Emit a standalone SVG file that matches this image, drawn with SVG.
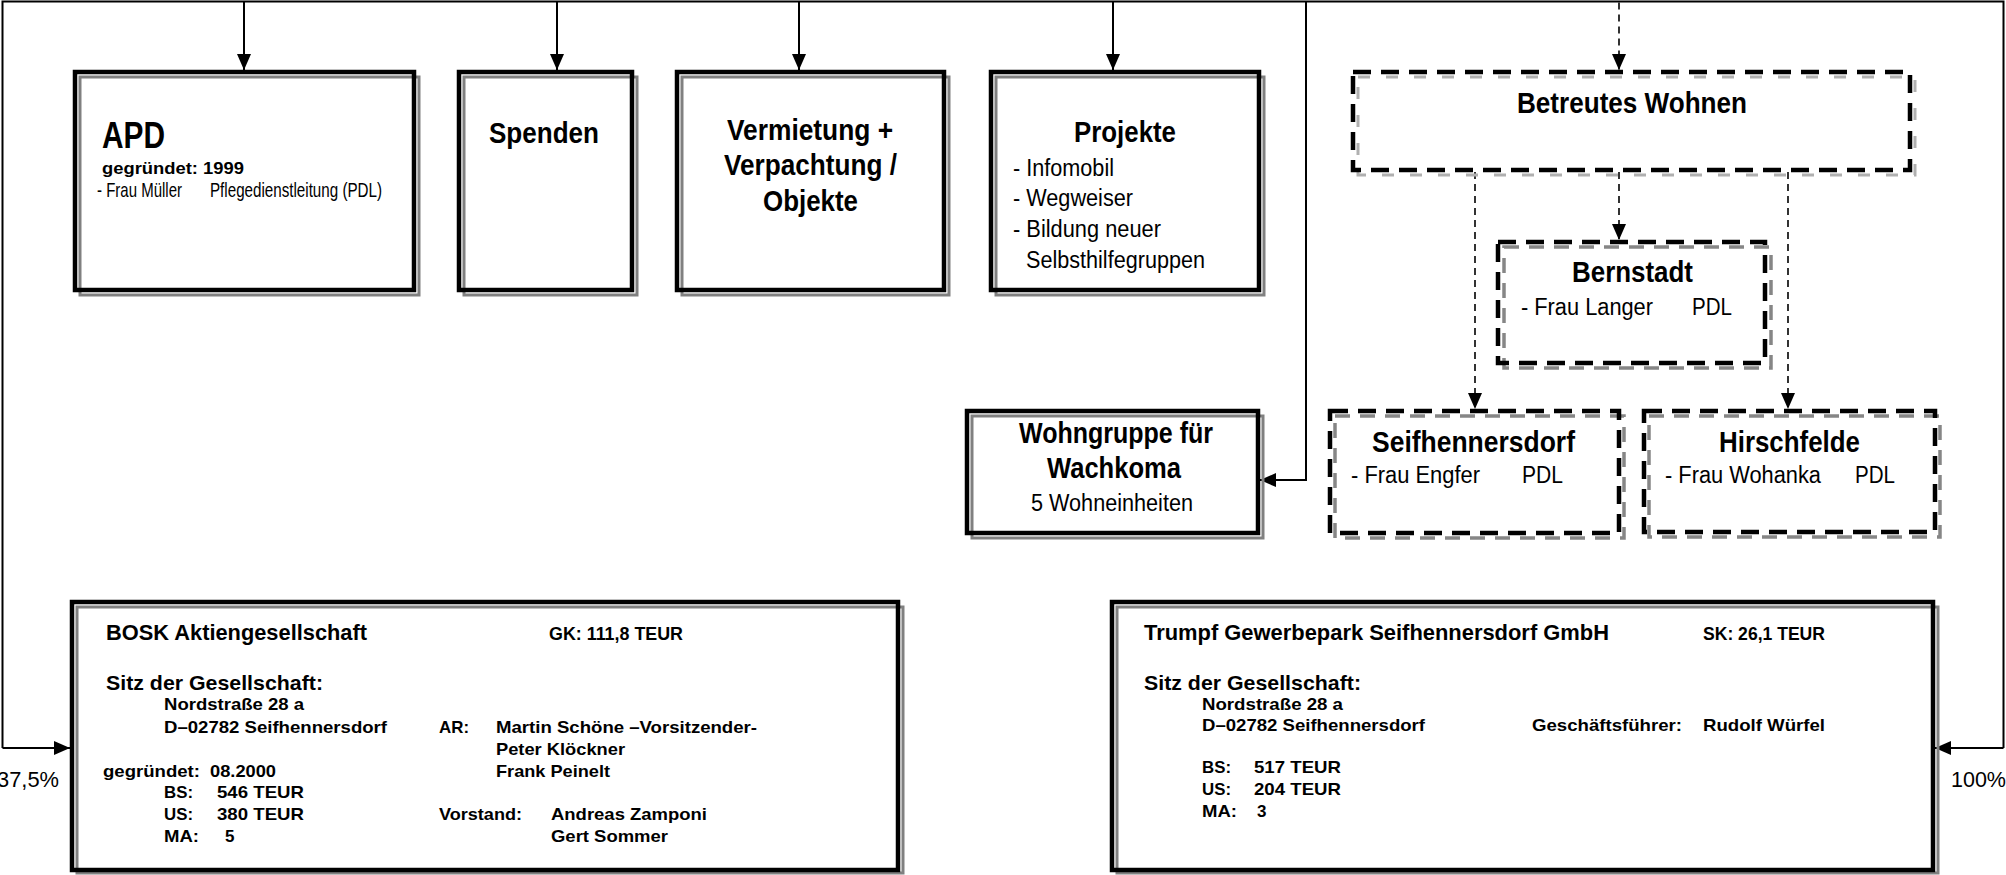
<svg xmlns="http://www.w3.org/2000/svg" width="2006" height="875" viewBox="0 0 2006 875">
<defs>
<style>
text{font-family:"Liberation Sans",Arial,sans-serif;fill:#000}
.b{font-weight:bold}
.t{font-size:29.5px;font-weight:bold}
.i{font-size:23px}
.s{font-size:17px;font-weight:bold}
.fill{fill:#fff;stroke:none}
.sh{fill:none;stroke:#808080;stroke-width:3}
.bx{fill:none;stroke:#000;stroke-width:4.5}
.dsh{fill:none;stroke:#868686;stroke-width:3.5;stroke-dasharray:15 10}
.dshl{fill:none;stroke:#b0b0b0;stroke-width:3;stroke-dasharray:12 16}
.dbx{fill:none;stroke:#000;stroke-width:4.5;stroke-dasharray:18 10}
.ln{fill:none;stroke:#000;stroke-width:2}
.dl{fill:none;stroke:#000;stroke-width:1.6;stroke-dasharray:7 5}
</style>
<marker id="ah" viewBox="0 0 16 14" refX="16" refY="7" markerWidth="16" markerHeight="14" markerUnits="userSpaceOnUse" orient="auto">
<path d="M0,0 L16,7 L0,14 z" fill="#000"/>
</marker>
</defs>
<rect x="0" y="0" width="2006" height="875" fill="#fff"/>

<g id="connectors">
<path class="ln" d="M2.5,748 V1.5 H2003.5 V748"/>
<path class="ln" d="M2.5,748 H70" marker-end="url(#ah)"/>
<path class="ln" d="M2003.5,748 H1935" marker-end="url(#ah)"/>
<path class="ln" d="M244,1.5 V70" marker-end="url(#ah)"/>
<path class="ln" d="M557,1.5 V70" marker-end="url(#ah)"/>
<path class="ln" d="M799,1.5 V70" marker-end="url(#ah)"/>
<path class="ln" d="M1113,1.5 V70" marker-end="url(#ah)"/>
<path class="ln" d="M1306,1.5 V480 H1260" marker-end="url(#ah)"/>
<path class="dl" d="M1619,2.5 V70" marker-end="url(#ah)"/>
<path class="dl" d="M1619,172 V240" marker-end="url(#ah)"/>
<path class="dl" d="M1475,172 V409" marker-end="url(#ah)"/>
<path class="dl" d="M1788,172 V409" marker-end="url(#ah)"/>
</g>

<g id="apd">
<rect class="fill" x="75" y="72" width="339" height="218"/>
<rect class="sh" x="80" y="77" width="339" height="218"/>
<rect class="bx" x="75" y="72" width="339" height="218"/>
<text class="b" x="102" y="148" font-size="36" textLength="63" lengthAdjust="spacingAndGlyphs">APD</text>
<text class="b" x="102" y="174" font-size="16.5" textLength="142" lengthAdjust="spacingAndGlyphs">gegründet: 1999</text>
<text x="97" y="197" font-size="21" textLength="85" lengthAdjust="spacingAndGlyphs">- Frau Müller</text>
<text x="210" y="197" font-size="21" textLength="172" lengthAdjust="spacingAndGlyphs">Pflegedienstleitung (PDL)</text>
</g>

<g id="spenden">
<rect class="fill" x="459" y="72" width="173" height="218"/>
<rect class="sh" x="464" y="77" width="173" height="218"/>
<rect class="bx" x="459" y="72" width="173" height="218"/>
<text class="t" x="489" y="143" textLength="110" lengthAdjust="spacingAndGlyphs">Spenden</text>
</g>

<g id="vermietung">
<rect class="fill" x="677" y="72" width="267" height="218"/>
<rect class="sh" x="682" y="77" width="267" height="218"/>
<rect class="bx" x="677" y="72" width="267" height="218"/>
<text class="t" x="727" y="140" textLength="166" lengthAdjust="spacingAndGlyphs">Vermietung +</text>
<text class="t" x="724" y="175" textLength="173" lengthAdjust="spacingAndGlyphs">Verpachtung /</text>
<text class="t" x="763" y="211" textLength="95" lengthAdjust="spacingAndGlyphs">Objekte</text>
</g>

<g id="projekte">
<rect class="fill" x="991" y="72" width="268" height="218"/>
<rect class="sh" x="996" y="77" width="268" height="218"/>
<rect class="bx" x="991" y="72" width="268" height="218"/>
<text class="t" x="1074" y="142" textLength="102" lengthAdjust="spacingAndGlyphs">Projekte</text>
<text class="i" x="1013" y="176" textLength="101" lengthAdjust="spacingAndGlyphs">- Infomobil</text>
<text class="i" x="1013" y="206" textLength="120" lengthAdjust="spacingAndGlyphs">- Wegweiser</text>
<text class="i" x="1013" y="237" textLength="148" lengthAdjust="spacingAndGlyphs">- Bildung neuer</text>
<text class="i" x="1026" y="268" textLength="179" lengthAdjust="spacingAndGlyphs">Selbsthilfegruppen</text>
</g>

<g id="betreutes-wohnen">
<rect class="fill" x="1353" y="72" width="557" height="98"/>
<rect class="dshl" x="1358" y="77" width="557" height="98"/>
<rect class="dbx" x="1353" y="72" width="557" height="98"/>
<text class="t" x="1517" y="113" textLength="230" lengthAdjust="spacingAndGlyphs">Betreutes Wohnen</text>
</g>

<g id="bernstadt">
<rect class="fill" x="1498" y="242" width="267" height="121"/>
<rect class="dsh" x="1504" y="247" width="267" height="121"/>
<rect class="dbx" x="1498" y="242" width="267" height="121"/>
<text class="t" x="1572" y="282" textLength="121" lengthAdjust="spacingAndGlyphs">Bernstadt</text>
<text class="i" x="1521" y="315" textLength="132" lengthAdjust="spacingAndGlyphs">- Frau Langer</text>
<text class="i" x="1692" y="315" textLength="40" lengthAdjust="spacingAndGlyphs">PDL</text>
</g>

<g id="wohngruppe">
<rect class="fill" x="967" y="411" width="291" height="122"/>
<rect class="sh" x="972" y="416" width="291" height="122"/>
<rect class="bx" x="967" y="411" width="291" height="122"/>
<text class="t" x="1019" y="443" textLength="194" lengthAdjust="spacingAndGlyphs">Wohngruppe für</text>
<text class="t" x="1047" y="478" textLength="134" lengthAdjust="spacingAndGlyphs">Wachkoma</text>
<text class="i" x="1031" y="511" textLength="162" lengthAdjust="spacingAndGlyphs">5 Wohneinheiten</text>
</g>

<g id="seifhennersdorf">
<rect class="fill" x="1330" y="411" width="289" height="122"/>
<rect class="dsh" x="1335" y="416" width="289" height="122"/>
<rect class="dbx" x="1330" y="411" width="289" height="122"/>
<text class="t" x="1372" y="452" textLength="203" lengthAdjust="spacingAndGlyphs">Seifhennersdorf</text>
<text class="i" x="1351" y="483" textLength="129" lengthAdjust="spacingAndGlyphs">- Frau Engfer</text>
<text class="i" x="1522" y="483" textLength="41" lengthAdjust="spacingAndGlyphs">PDL</text>
</g>

<g id="hirschfelde">
<rect class="fill" x="1644" y="411" width="291" height="121"/>
<rect class="dsh" x="1649" y="416" width="291" height="121"/>
<rect class="dbx" x="1644" y="411" width="291" height="121"/>
<text class="t" x="1719" y="452" textLength="141" lengthAdjust="spacingAndGlyphs">Hirschfelde</text>
<text class="i" x="1665" y="483" textLength="156" lengthAdjust="spacingAndGlyphs">- Frau Wohanka</text>
<text class="i" x="1855" y="483" textLength="40" lengthAdjust="spacingAndGlyphs">PDL</text>
</g>

<g id="bosk">
<rect class="fill" x="72" y="602" width="826" height="268"/>
<rect class="sh" x="77" y="607" width="826" height="266"/>
<rect class="bx" x="72" y="602" width="826" height="268"/>
<text class="b" x="106" y="640" font-size="22" textLength="261" lengthAdjust="spacingAndGlyphs">BOSK Aktiengesellschaft</text>
<text class="b" x="549" y="640" font-size="18" textLength="134" lengthAdjust="spacingAndGlyphs">GK: 111,8 TEUR</text>
<text class="b" x="106" y="690" font-size="21" textLength="217" lengthAdjust="spacingAndGlyphs">Sitz der Gesellschaft:</text>
<text class="s" x="164" y="710" textLength="140" lengthAdjust="spacingAndGlyphs">Nordstraße 28 a</text>
<text class="s" x="164" y="733" textLength="223" lengthAdjust="spacingAndGlyphs">D–02782 Seifhennersdorf</text>
<text class="s" x="439" y="733" textLength="30" lengthAdjust="spacingAndGlyphs">AR:</text>
<text class="s" x="496" y="733" textLength="261" lengthAdjust="spacingAndGlyphs">Martin Schöne –Vorsitzender-</text>
<text class="s" x="496" y="755" textLength="129" lengthAdjust="spacingAndGlyphs">Peter Klöckner</text>
<text class="s" x="103" y="777" textLength="97" lengthAdjust="spacingAndGlyphs">gegründet:</text>
<text class="s" x="210" y="777" textLength="66" lengthAdjust="spacingAndGlyphs">08.2000</text>
<text class="s" x="496" y="777" textLength="114" lengthAdjust="spacingAndGlyphs">Frank Peinelt</text>
<text class="s" x="164" y="798" textLength="29" lengthAdjust="spacingAndGlyphs">BS:</text>
<text class="s" x="217" y="798" textLength="87" lengthAdjust="spacingAndGlyphs">546 TEUR</text>
<text class="s" x="164" y="820" textLength="29" lengthAdjust="spacingAndGlyphs">US:</text>
<text class="s" x="217" y="820" textLength="87" lengthAdjust="spacingAndGlyphs">380 TEUR</text>
<text class="s" x="439" y="820" textLength="83" lengthAdjust="spacingAndGlyphs">Vorstand:</text>
<text class="s" x="551" y="820" textLength="156" lengthAdjust="spacingAndGlyphs">Andreas Zamponi</text>
<text class="s" x="164" y="842" textLength="35" lengthAdjust="spacingAndGlyphs">MA:</text>
<text class="s" x="225" y="842">5</text>
<text class="s" x="551" y="842" textLength="117" lengthAdjust="spacingAndGlyphs">Gert Sommer</text>
</g>

<g id="trumpf">
<rect class="fill" x="1112" y="602" width="821" height="268"/>
<rect class="sh" x="1117" y="607" width="821" height="266"/>
<rect class="bx" x="1112" y="602" width="821" height="268"/>
<text class="b" x="1144" y="640" font-size="22" textLength="465" lengthAdjust="spacingAndGlyphs">Trumpf Gewerbepark Seifhennersdorf GmbH</text>
<text class="b" x="1703" y="640" font-size="18" textLength="122" lengthAdjust="spacingAndGlyphs">SK: 26,1 TEUR</text>
<text class="b" x="1144" y="690" font-size="21" textLength="217" lengthAdjust="spacingAndGlyphs">Sitz der Gesellschaft:</text>
<text class="s" x="1202" y="710" textLength="141" lengthAdjust="spacingAndGlyphs">Nordstraße 28 a</text>
<text class="s" x="1202" y="731" textLength="223" lengthAdjust="spacingAndGlyphs">D–02782 Seifhennersdorf</text>
<text class="s" x="1532" y="731" textLength="150" lengthAdjust="spacingAndGlyphs">Geschäftsführer:</text>
<text class="s" x="1703" y="731" textLength="122" lengthAdjust="spacingAndGlyphs">Rudolf Würfel</text>
<text class="s" x="1202" y="773" textLength="29" lengthAdjust="spacingAndGlyphs">BS:</text>
<text class="s" x="1254" y="773" textLength="87" lengthAdjust="spacingAndGlyphs">517 TEUR</text>
<text class="s" x="1202" y="795" textLength="29" lengthAdjust="spacingAndGlyphs">US:</text>
<text class="s" x="1254" y="795" textLength="87" lengthAdjust="spacingAndGlyphs">204 TEUR</text>
<text class="s" x="1202" y="817" textLength="35" lengthAdjust="spacingAndGlyphs">MA:</text>
<text class="s" x="1257" y="817">3</text>
</g>

<g id="labels">
<text x="59" y="787" font-size="22" text-anchor="end" textLength="62" lengthAdjust="spacingAndGlyphs">37,5%</text>
<text x="1951" y="787" font-size="22" textLength="55" lengthAdjust="spacingAndGlyphs">100%</text>
</g>
</svg>
